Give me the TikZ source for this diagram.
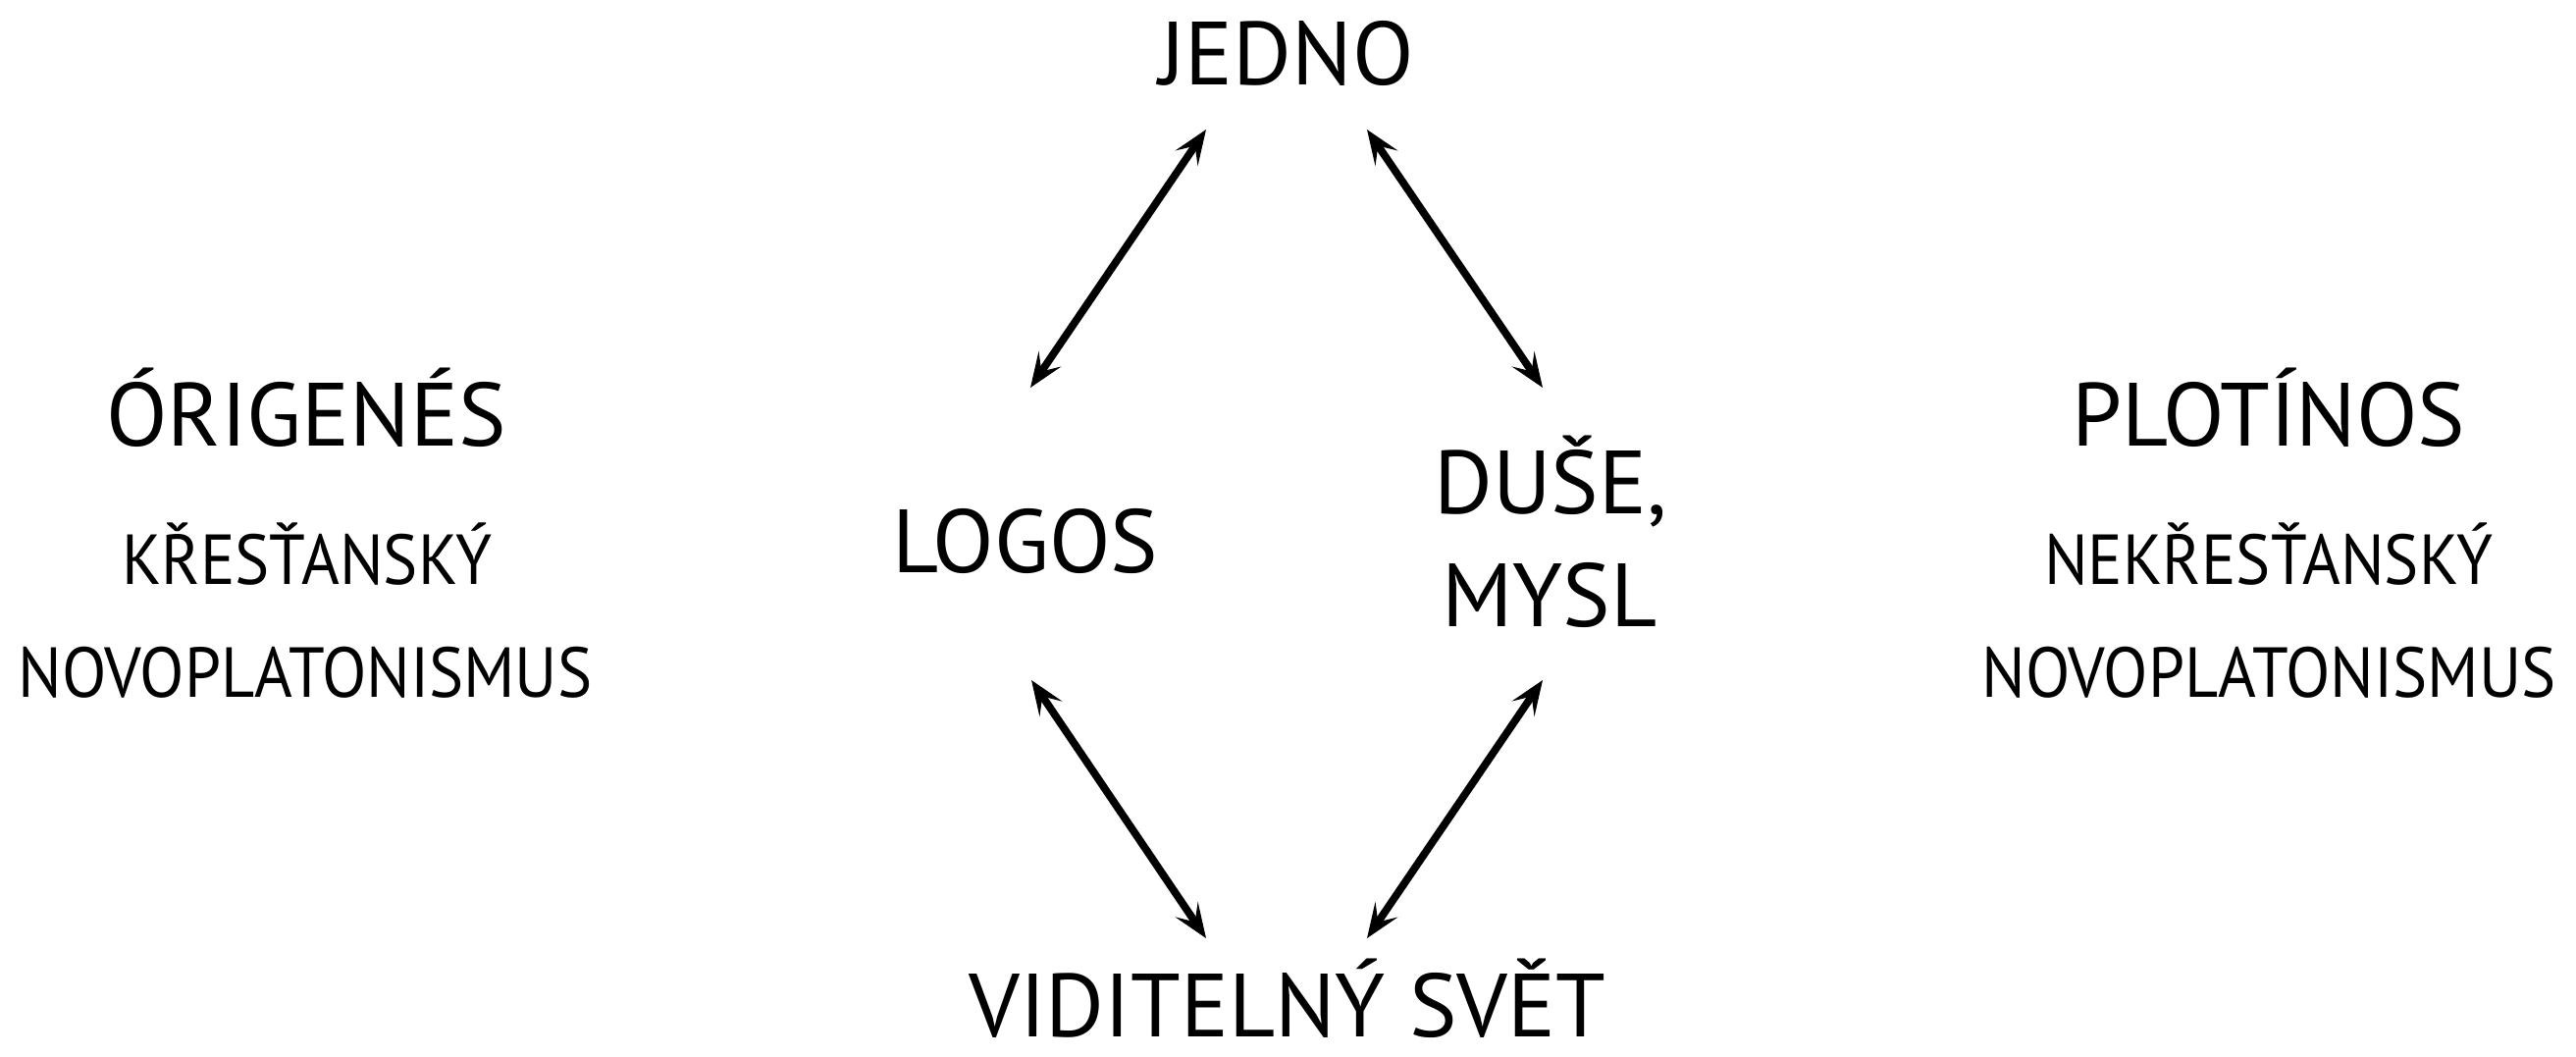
\documentclass[tikz,border=0pt]{standalone}
\usepackage{fontspec}
\setmainfont{PT Sans}
\newfontfamily\narrowfont[FakeStretch=0.92]{PT Sans}
\usetikzlibrary{arrows.meta}
\begin{document}
\begin{tikzpicture}[x=0.01cm,y=-0.01cm,
  big/.style={inner sep=0pt, anchor=base, font=\fontsize{26}{31}\selectfont},
  small/.style={inner sep=0pt, anchor=base, font=\narrowfont\fontsize{20.5}{24}\selectfont},
  link/.style={line width=2.2pt, {Stealth[length=10pt,width=7.8pt,inset=4.3pt]}-{Stealth[length=10pt,width=7.8pt,inset=4.3pt]}}]
\useasboundingbox (0,0) rectangle (2625,1077);
\node[big] (jedno) at (1311,87) {JEDNO};
\node[big] (origenes) at (312,455) {ÓRIGENÉS};
\node[small] (krest) at (313,596) {KŘESŤANSKÝ};
\node[small] (novo1) at (311,711) {NOVOPLATONISMUS};
\node[big] (logos) at (1045,584) {LOGOS};
\node[big] (duse) at (1580,524) {DUŠE,};
\node[big] (mysl) at (1579,639) {MYSL};
\node[big] (plotinos) at (2312,455) {PLOTÍNOS};
\node[small] (nekrest) at (2312,596) {NEKŘESŤANSKÝ};
\node[small] (novo2) at (2312,711) {NOVOPLATONISMUS};
\node[big, text depth=0pt] (svet) at (1312,1056) {VIDITELNÝ SVĚT};
\coordinate (a1s) at (1050,395); \coordinate (a1e) at (1229,132);
\coordinate (a2s) at (1393,132); \coordinate (a2e) at (1572,395);
\coordinate (a3s) at (1051,693); \coordinate (a3e) at (1229,956);
\coordinate (a4s) at (1572,693); \coordinate (a4e) at (1393,956);
\draw[link] (a1s) -- (a1e);
\draw[link] (a2s) -- (a2e);
\draw[link] (a3s) -- (a3e);
\draw[link] (a4s) -- (a4e);
\end{tikzpicture}
\end{document}
